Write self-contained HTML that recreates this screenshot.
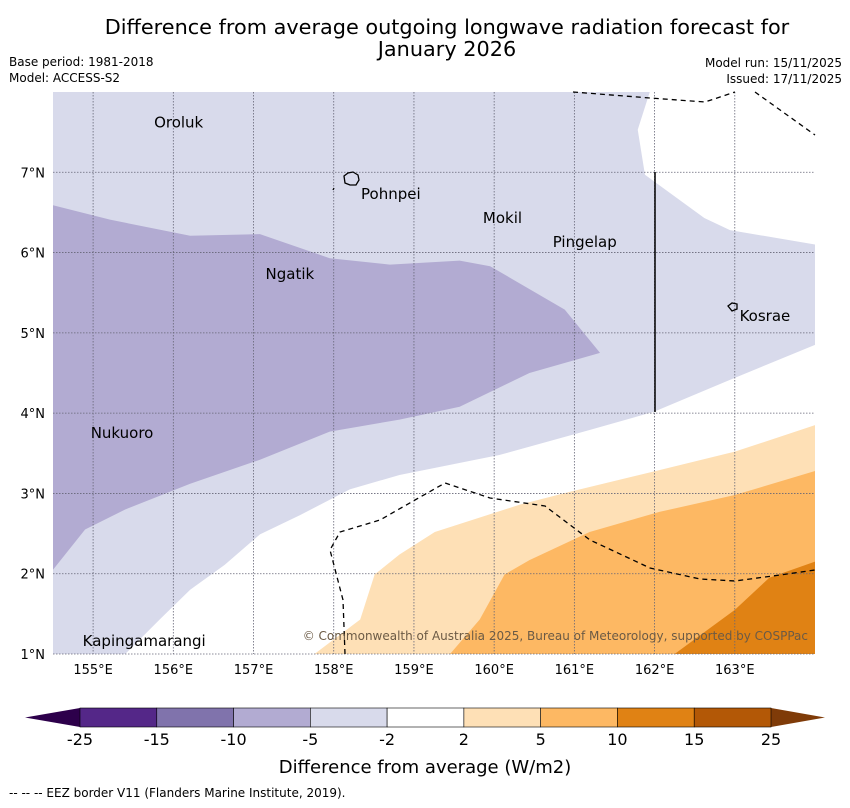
<!DOCTYPE html>
<html><head><meta charset="utf-8"><style>
body{margin:0;background:#fff;font-family:"DejaVu Sans","Liberation Sans",sans-serif}
svg text{font-family:"DejaVu Sans","Liberation Sans",sans-serif}
</style></head><body>
<svg id="c" width="850" height="804" xmlns="http://www.w3.org/2000/svg">
<text x="447" y="34" font-size="20.8" text-anchor="middle">Difference from average outgoing longwave radiation forecast for</text>
<text x="447" y="56" font-size="20.8" text-anchor="middle">January 2026</text>
<text x="9" y="66" font-size="12">Base period: 1981-2018</text>
<text x="9" y="82" font-size="12">Model: ACCESS-S2</text>
<text x="842" y="67" font-size="12" text-anchor="end">Model run: 15/11/2025</text>
<text x="842" y="83" font-size="12" text-anchor="end">Issued: 17/11/2025</text>
<g id="map"></g>
<g id="cb"></g>
<text x="425" y="773" font-size="18" text-anchor="middle">Difference from average (W/m2)</text>
<text x="9" y="797" font-size="12">--  --  -- EEZ border V11 (Flanders Marine Institute, 2019).</text>
</svg>
<script>
const lonTicks=[155,156,157,158,159,160,161,162,163];
const latTicks=[1,2,3,4,5,6,7];
const levelLabels=["-25","-15","-10","-5","-2","2","5","10","15","25"];
const levelColors=["#542788","#8073ac","#b2abd2","#d8daeb","#ffffff","#fee0b6","#fdb863","#e08214","#b35806"];
const regionLightPurple=[[161.94,8],[161.79,7.53],[161.88,6.97],[162.62,6.43],[162.94,6.28],[164,6.1],[164,4.85],[163,4.44],[162,4.02],[161.19,3.79],[160.07,3.48],[158.82,3.23],[158.2,3.05],[157.58,2.73],[157.08,2.49],[156.64,2.11],[156.21,1.8],[155.83,1.43],[155.4,1],[154.5,1],[154.5,8]];
const regionPurple=[[154.5,6.59],[155.21,6.41],[156.21,6.21],[157.08,6.23],[157.95,5.93],[158.7,5.85],[159.57,5.9],[159.95,5.83],[160.88,5.29],[161.32,4.75],[160.44,4.5],[159.57,4.08],[158.82,3.92],[157.95,3.77],[157.08,3.42],[156.21,3.12],[155.4,2.8],[154.9,2.55],[154.5,2.05]];
const regionLightOrange=[[157.76,1],[158.33,1.43],[158.51,1.99],[158.82,2.24],[159.26,2.52],[160.32,2.86],[160.94,3.02],[162.06,3.29],[163,3.52],[164,3.85],[164,1]];
const regionOrange=[[159.45,1],[159.82,1.43],[160.13,1.99],[160.44,2.17],[161.19,2.52],[162.06,2.77],[163,2.98],[164,3.28],[164,1]];
const regionDarkOrange=[[162.25,1],[163,1.55],[163.43,1.95],[164,2.15],[164,1]];
const placeNames=["Oroluk","Pohnpei","Mokil","Pingelap","Ngatik","Kosrae","Nukuoro","Kapingamarangi"];
const placeLon=[155.76,158.34,159.86,160.73,157.15,163.06,154.97,154.87];
const placeLat=[7.56,6.67,6.37,6.07,5.67,5.15,3.69,1.10];
const NS="http://www.w3.org/2000/svg";
const X0=53,X1=815,Y0=92,Y1=654,LON0=154.5,LON1=164,LAT0=1,LAT1=8;
const x=l=>X0+(l-LON0)/(LON1-LON0)*(X1-X0);
const y=l=>Y1-(l-LAT0)/(LAT1-LAT0)*(Y1-Y0);
const map=document.getElementById('map');
function mk(t,a,p){const e=document.createElementNS(NS,t);for(const k in a)e.setAttribute(k,a[k]);(p||map).appendChild(e);return e;}
function poly(pts,fill,name){const e=mk('polygon',{points:pts.map(p=>x(p[0])+','+y(p[1])).join(' '),fill:fill});

}
poly(regionLightPurple,levelColors[3],'region-minus5-to-minus2');
poly(regionPurple,levelColors[2],'region-minus10-to-minus5');
poly(regionLightOrange,levelColors[5],'region-2-to-5');
poly(regionOrange,levelColors[6],'region-5-to-10');
poly(regionDarkOrange,levelColors[7],'region-10-to-15');
lonTicks.forEach(l=>{const g=mk('line',{x1:x(l),x2:x(l),y1:Y0,y2:Y1,stroke:'#667',"stroke-width":0.8,"stroke-dasharray":"1.5,1.5"});


const t=mk('text',{x:x(l),y:Y1+20,"font-size":13,"text-anchor":"middle"});t.textContent=l+'°E';

});
latTicks.forEach(l=>{const g=mk('line',{x1:X0,x2:X1,y1:y(l),y2:y(l),stroke:'#667',"stroke-width":0.8,"stroke-dasharray":"1.5,1.5"});


const t=mk('text',{x:X0-8,y:y(l)+5,"font-size":13,"text-anchor":"end"});t.textContent=l+'°N';

});
const eez=["M573,92 L650,98 L705,102 L735,92","M755,92 L815,135","M345,654 L343,600 L330,550 L340,532 L380,520 L415,500 L445,483 L490,498 L545,506 L590,540 L650,568 L700,579 L735,581 L780,575 L815,570"];
eez.forEach(d=>{const e=mk('path',{d:d,fill:'none',stroke:'#000',"stroke-width":1.3,"stroke-dasharray":"5,4"});

});
const vl=mk('line',{x1:655,x2:655,y1:172,y2:412,stroke:'#000',"stroke-width":1.5});


const isl=mk('path',{d:"M344,176 l4,-3 l5,-1 l5,3 l1,5 l-3,5 l-6,0 l-5,-2 z M333,190 l1,-2 M728,306 l4,-3 l5,1 l0,5 l-5,2 z",fill:'none',stroke:'#000',"stroke-width":1.3});


placeNames.forEach((n,i)=>{const t=mk('text',{x:x(placeLon[i]),y:y(placeLat[i]),"font-size":15});t.textContent=n;

});
const cp=mk('text',{x:808,y:640,"font-size":12,"text-anchor":"end",fill:'#6b5a45'});cp.textContent='© Commonwealth of Australia 2025, Bureau of Meteorology, supported by COSPPac';


const cb=document.getElementById('cb');
const CX0=80,CX1=771,CY=708,CH=19,n=levelColors.length,w=(CX1-CX0)/n;
const l1=mk('polygon',{points:`${CX0},${CY} ${CX0},${CY+CH} 25,${CY+CH/2}`,fill:'#2d004b'},cb);


const r1=mk('polygon',{points:`${CX1},${CY} ${CX1},${CY+CH} 825,${CY+CH/2}`,fill:'#7f3b08'},cb);


levelColors.forEach((c,i)=>{const r=mk('rect',{x:CX0+i*w,y:CY,width:w,height:CH,fill:c,stroke:'#000',"stroke-width":0.6},cb);

});
levelLabels.forEach((s,i)=>{const t=mk('text',{x:CX0+i*w,y:CY+CH+18,"font-size":16,"text-anchor":"middle"},cb);t.textContent=s;

});
</script>
</body></html>
